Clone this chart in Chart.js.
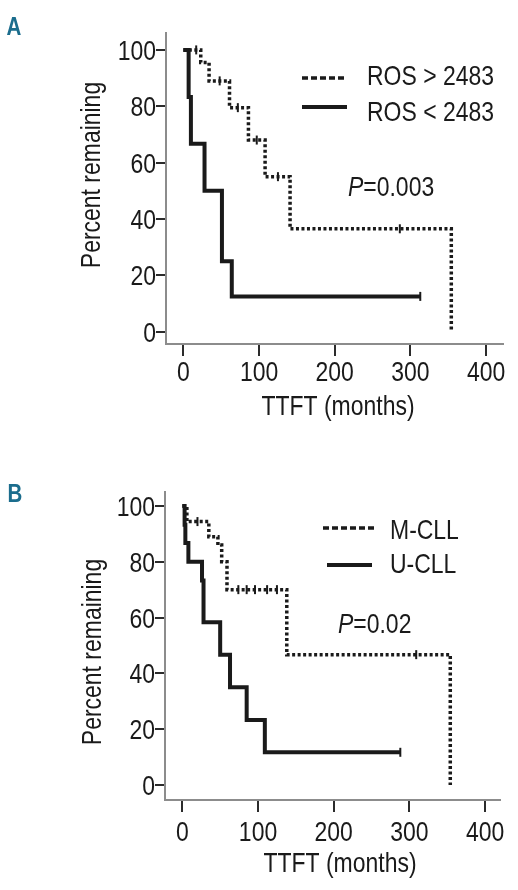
<!DOCTYPE html>
<html>
<head>
<meta charset="utf-8">
<script src="https://cdn.jsdelivr.net/npm/chart.js@4.4.1/dist/chart.umd.min.js"></script>
<style>
  html, body { margin: 0; padding: 0; background: #fff; }
  #wrap { position: relative; width: 518px; height: 890px; }
  canvas { position: absolute; left: 0; }
</style>
</head>
<body>
<div id="wrap">
  <canvas id="chartA" width="518" height="445" style="top:0"></canvas>
  <canvas id="chartB" width="518" height="445" style="top:445px"></canvas>
</div>
<script>
const xTicks = [0, 100, 200, 300, 400];
const yTicks = [0, 20, 40, 60, 80, 100];

// panel A - ROS level split at 2483 (1 = censored)
const rosHighMonths = [0, 17, 23, 34, 48, 61, 72, 86, 97, 108, 125, 141, 286, 354];
const rosHighPct    = [100, 100, 95.5, 89, 89, 79.5, 79.5, 68, 68, 55, 55, 36.5, 36.5, 0];
const rosHighCens   = [0, 1, 0, 0, 1, 0, 1, 0, 1, 0, 1, 0, 1, 0];
const rosLowMonths  = [0, 7, 10, 28, 51, 64, 313];
const rosLowPct     = [100, 83.3, 66.7, 50, 25, 12.5, 12.5];
const rosLowCens    = [0, 0, 0, 0, 0, 0, 1];

// panel B - IGHV mutated vs unmutated
const mcllMonths = [0, 6, 20, 35, 47, 52, 59, 74, 85, 96, 112, 125, 138, 309, 354];
const mcllPct    = [100, 94.4, 94.4, 89, 86, 80, 70, 70, 70, 70, 70, 70, 46.7, 46.7, 0];
const mcllCens   = [0, 0, 1, 0, 0, 0, 0, 1, 1, 1, 1, 1, 0, 1, 0];
const ucllMonths = [0, 3, 4, 8, 26, 28, 50, 63, 85, 109, 288];
const ucllPct    = [100, 93.3, 86.7, 80, 73.3, 58.3, 46.7, 35, 23.3, 11.7, 11.7];
const ucllCens   = [0, 0, 0, 0, 0, 0, 0, 0, 0, 0, 1];

const FONT = '"Liberation Sans", Arial, sans-serif';
const INK = '#1a1a1a';
const SQUEEZE = 0.82;   // no narrow font installed, so squeeze Liberation Sans

toPoints = (t, s) => t.map((v, i) => ({ x: v, y: s[i] }));

curve = (label, t, s, c, dotted) => ({
    label: label,
    data: toPoints(t, s),
    stepped: true,
    fill: false,
    borderColor: INK,
    borderWidth: dotted ? 3.5 : 4,
    borderDash: dotted ? [3, 2.5] : [],
    dotted: dotted,
    pointStyle: 'line',
    pointRotation: 90,
    pointRadius: c.map(v => v ? 4.5 : 0),
    pointHoverRadius: 0,
    pointBorderWidth: 2,
    pointBorderColor: INK
});

// draws text squeezed horizontally, returns its drawn width
narrow = (ctx, text, x, y, align, font, rot) => {
    ctx.save();
    ctx.font = font;
    ctx.translate(x, y);
    if (rot) ctx.rotate(rot);
    ctx.scale(SQUEEZE, 1);
    ctx.textAlign = align;
    ctx.textBaseline = 'alphabetic';
    ctx.fillText(text, 0, 0);
    const w = ctx.measureText(text).width * SQUEEZE;
    ctx.restore();
    return w;
}

// tick labels, letter, axis titles, legend and p value
const panelDecor = {
    id: 'panelDecor',
    afterDraw(chart, args, o) {
        const ctx = chart.ctx;
        const f = '28px ' + FONT;
        const xs = chart.scales.x, ys = chart.scales.y;
        ctx.save();
        ctx.fillStyle = INK;

        xs.ticks.forEach(t => narrow(ctx, String(t.value), xs.getPixelForValue(t.value), o.xLabelY, 'center', f));
        ys.ticks.forEach(t => narrow(ctx, String(t.value), ys.left + ys.width - 10, ys.getPixelForValue(t.value) + 10, 'right', f));

        narrow(ctx, o.xTitle, o.xTitleX, o.xTitleY, 'center', f);
        narrow(ctx, o.yTitle, o.yTitleX, o.yTitleY, 'center', f, -Math.PI / 2);

        ctx.strokeStyle = INK;
        chart.data.datasets.forEach((ds, i) => {
            const it = o.legend[i];
            ctx.beginPath();
            ctx.lineWidth = ds.borderWidth;
            ctx.setLineDash(ds.dotted ? [6, 3] : []);
            ctx.moveTo(it.x0, it.y);
            ctx.lineTo(it.x1, it.y);
            ctx.stroke();
            ctx.setLineDash([]);
            narrow(ctx, ds.label, it.tx, it.ty, 'left', f);
        });

        const w = narrow(ctx, 'P', o.pX, o.pY, 'left', 'italic ' + f);
        narrow(ctx, '=' + o.pValue, o.pX + w, o.pY, 'left', f);

        ctx.fillStyle = '#1b6d8d';
        narrow(ctx, o.letter, o.letterX, o.letterY, 'center', 'bold 25px ' + FONT);
        ctx.restore();
    }
};

makeChart = (id, sets, lay, deco) => new Chart(document.getElementById(id), {
    type: 'line',
    data: { datasets: sets },
    options: {
        responsive: false,
        animation: false,
        devicePixelRatio: 1,
        events: [],
        layout: { padding: { top: lay.top, right: lay.right, left: 0, bottom: 0 } },
        scales: {
            x: {
                type: 'linear',
                min: lay.xMin,
                max: lay.xMax,
                afterBuildTicks: s => { s.ticks = xTicks.map(v => ({ value: v })); },
                afterFit: s => { s.height = lay.xHeight; s.paddingLeft = 0; s.paddingRight = 0; },
                grid: { drawOnChartArea: false, tickLength: 12, color: '#2b2b2b', lineWidth: 2 },
                border: { color: '#8c8c8c', width: 2 },
                ticks: { display: false }
            },
            y: {
                type: 'linear',
                min: lay.yMin,
                max: lay.yMax,
                afterBuildTicks: s => { s.ticks = yTicks.map(v => ({ value: v })); },
                afterFit: s => { s.width = lay.yWidth; s.paddingTop = 0; s.paddingBottom = 0; },
                grid: { drawOnChartArea: false, tickLength: 10, color: '#2b2b2b', lineWidth: 2 },
                border: { color: '#8c8c8c', width: 2 },
                ticks: { display: false }
            }
        },
        plugins: {
            legend: { display: false },
            tooltip: { enabled: false },
            panelDecor: deco
        }
    },
    plugins: [panelDecor]
});

makeChart('chartA', [
    curve('ROS > 2483', rosHighMonths, rosHighPct, rosHighCens, true),
    curve('ROS < 2483', rosLowMonths, rosLowPct, rosLowCens, false)
], { top: 33, right: 15, xHeight: 101, yWidth: 166, xMin: -22.9, xMax: 422.3, yMin: -4.4, yMax: 106 }, {
    letter: 'A', letterX: 14, letterY: 35,
    xLabelY: 381,
    xTitle: 'TTFT (months)', xTitleX: 338, xTitleY: 415,
    yTitle: 'Percent remaining', yTitleX: 100, yTitleY: 175,
    legend: [
        { x0: 302, x1: 345, y: 78, tx: 367, ty: 85 },
        { x0: 302, x1: 347, y: 107, tx: 367, ty: 121 }
    ],
    pValue: '0.003', pX: 348, pY: 196
});

makeChart('chartB', [
    curve('M-CLL', mcllMonths, mcllPct, mcllCens, true),
    curve('U-CLL', ucllMonths, ucllPct, ucllCens, false)
], { top: 47, right: 18, xHeight: 90, yWidth: 165, xMin: -22.9, xMax: 419.7, yMin: -5.4, yMax: 105 }, {
    letter: 'B', letterX: 15, letterY: 57,
    xLabelY: 396,
    xTitle: 'TTFT (months)', xTitleX: 340, xTitleY: 427,
    yTitle: 'Percent remaining', yTitleX: 101, yTitleY: 207,
    legend: [
        { x0: 323, x1: 377, y: 83, tx: 390, ty: 94 },
        { x0: 327, x1: 372, y: 120, tx: 390, ty: 128 }
    ],
    pValue: '0.02', pX: 338, pY: 188
});
</script>
</body>
</html>
